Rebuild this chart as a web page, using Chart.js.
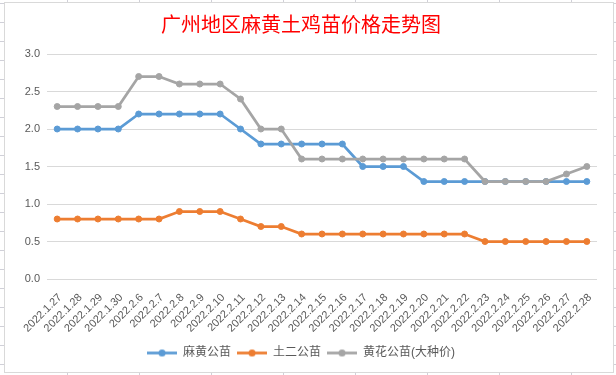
<!DOCTYPE html>
<html>
<head>
<meta charset="utf-8">
<script src="https://cdn.jsdelivr.net/npm/chart.js@4/dist/chart.umd.min.js"></script>
<style>
  html, body { margin: 0; padding: 0; }
  body {
    width: 616px;
    height: 375px;
    position: relative;
    overflow: hidden;
    background-color: #ffffff;
    background-image:
      repeating-linear-gradient(to right, transparent 0, transparent 67px, #d0d0d8 67px, #d0d0d8 68px, transparent 68px, transparent 72px),
      repeating-linear-gradient(to bottom, transparent 0, transparent 3px, #d0d0d8 3px, #d0d0d8 4px, transparent 4px, transparent 19px);
  }
  #box {
    position: absolute;
    left: 4px;
    top: 2px;
    width: 610px;
    height: 371px;
    box-sizing: border-box;
    border: 1px solid #d9d9d9;
    background: #ffffff;
  }
  #box canvas { display: block; }
</style>
</head>
<body>
<div id="box"><canvas id="priceChart" width="608" height="369"></canvas></div>
<script>
// Chart data
const dates = [
  '2022.1.27', '2022.1.28', '2022.1.29', '2022.1.30', '2022.2.6', '2022.2.7',
  '2022.2.8', '2022.2.9', '2022.2.10', '2022.2.11', '2022.2.12', '2022.2.13',
  '2022.2.14', '2022.2.15', '2022.2.16', '2022.2.17', '2022.2.18', '2022.2.19',
  '2022.2.20', '2022.2.21', '2022.2.22', '2022.2.23', '2022.2.24', '2022.2.25',
  '2022.2.26', '2022.2.27', '2022.2.28',
];
const mahuangPrices = [2.0, 2.0, 2.0, 2.0, 2.2, 2.2, 2.2, 2.2, 2.2, 2.0, 1.8, 1.8, 1.8, 1.8, 1.8, 1.5, 1.5, 1.5, 1.3, 1.3, 1.3, 1.3, 1.3, 1.3, 1.3, 1.3, 1.3];
const tuerPrices = [0.8, 0.8, 0.8, 0.8, 0.8, 0.8, 0.9, 0.9, 0.9, 0.8, 0.7, 0.7, 0.6, 0.6, 0.6, 0.6, 0.6, 0.6, 0.6, 0.6, 0.6, 0.5, 0.5, 0.5, 0.5, 0.5, 0.5];
const huanghuaPrices = [2.3, 2.3, 2.3, 2.3, 2.7, 2.7, 2.6, 2.6, 2.6, 2.4, 2.0, 2.0, 1.6, 1.6, 1.6, 1.6, 1.6, 1.6, 1.6, 1.6, 1.6, 1.3, 1.3, 1.3, 1.3, 1.4, 1.5];
const seriesNames = ['麻黄公苗', '土二公苗', '黄花公苗(大种价)'];
const seriesColors = ['#5B9BD5', '#ED7D31', '#A5A5A5'];

const textColor = '#595959';
const gridColor = '#d9d9d9';
const latinFont = "'Liberation Sans', 'Noto Sans CJK SC', sans-serif";

// Legend icon: short line with a dot, like the Excel marker legend
function legendIcon(color) {
  const c = document.createElement('canvas');
  c.width = 30;
  c.height = 9;
  const g = c.getContext('2d');
  g.strokeStyle = color;
  g.lineWidth = 2.75;
  g.beginPath();
  g.moveTo(0, 4.5);
  g.lineTo(30, 4.5);
  g.stroke();
  g.fillStyle = color;
  g.beginPath();
  g.arc(15, 4.5, 3.6, 0, Math.PI * 2);
  g.fill();
  return c;
}
const legendIcons = seriesColors.map(legendIcon);

function makeDataset(i, data, order) {
  return {
    label: seriesNames[i],
    data: data,
    borderColor: seriesColors[i],
    backgroundColor: seriesColors[i],
    pointBackgroundColor: seriesColors[i],
    pointBorderColor: seriesColors[i],
    borderWidth: 2.75,
    pointRadius: 3,
    pointBorderWidth: 1,
    tension: 0,
    order: order,
  };
}

const ctx = document.getElementById('priceChart');
const chart = new Chart(ctx, {
  type: 'line',
  data: {
    labels: dates,
    datasets: [
      makeDataset(0, mahuangPrices, 2),
      makeDataset(1, tuerPrices, 1),
      makeDataset(2, huanghuaPrices, 0),
    ],
  },
  options: {
    responsive: false,
    animation: false,
    layout: {
      padding: { left: 0, right: 16, top: 0, bottom: 3 },
    },
    scales: {
      x: {
        offset: true,
        grid: { display: false, drawTicks: false },
        border: { display: false },
        ticks: {
          color: textColor,
          font: { family: latinFont, size: 11 },
          minRotation: 45,
          maxRotation: 45,
          autoSkip: false,
          padding: 12,
          labelOffset: 3,
        },
        afterFit(scale) {
          scale.height = 62;
        },
      },
      y: {
        min: 0,
        max: 3,
        grid: { color: gridColor, lineWidth: 1, drawTicks: false },
        border: { display: false },
        ticks: {
          stepSize: 0.5,
          color: textColor,
          font: { family: latinFont, size: 11 },
          padding: 7,
          callback: (v) => Number(v).toFixed(1),
        },
        afterFit(scale) {
          scale.width = 42;
        },
      },
    },
    plugins: {
      title: {
        display: true,
        text: '广州地区麻黄土鸡苗价格走势图',
        color: '#FF0000',
        font: { family: "'Noto Sans CJK SC', sans-serif", size: 20, weight: 'normal' },
        padding: { top: 9, bottom: 18 },
      },
      legend: {
        position: 'bottom',
        labels: {
          color: textColor,
          font: { family: latinFont, size: 12 },
          usePointStyle: true,
          pointStyleWidth: 30,
          padding: 6,
          sort: (a, b) => a.datasetIndex - b.datasetIndex,
          generateLabels(chart) {
            const items = Chart.defaults.plugins.legend.labels.generateLabels(chart);
            items.forEach((item) => {
              item.pointStyle = legendIcons[item.datasetIndex];
            });
            return items;
          },
        },
      },
      tooltip: { enabled: false },
    },
  },
});
</script>
</body>
</html>
